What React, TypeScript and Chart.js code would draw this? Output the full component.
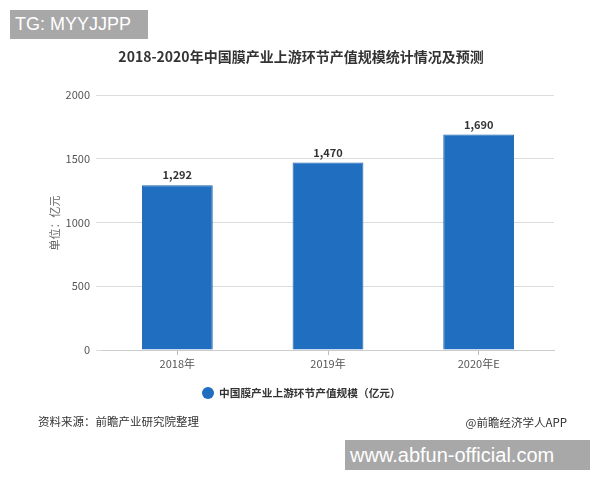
import React, { useEffect, useRef } from "react";
import { Chart, registerables } from "chart.js";

Chart.register(...registerables);

const categories = ["2018年", "2019年", "2020年E"];
const values = [1292, 1470, 1690];
const yTicks = [0, 500, 1000, 1500, 2000];
const titleText = "2018-2020年中国膜产业上游环节产值规模统计情况及预测";
const seriesName = "中国膜产业上游环节产值规模（亿元）";
const yAxisTitle = "单位：亿元";
const sourceText = "资料来源：前瞻产业研究院整理";
const creditText = "@前瞻经济学人APP";

const CJK = '"Noto Sans CJK SC", "Noto Sans", sans-serif';
const BAR = "#1f6ebf";

const fmt = (v: number) => v.toLocaleString("en-US");

const decor = {
  id: "decor",
  afterDatasetsDraw(chart: any) {
    const ctx = chart.ctx as CanvasRenderingContext2D;
    const meta = chart.getDatasetMeta(0);
    ctx.save();
    // data labels
    ctx.fillStyle = "#333";
    ctx.font = `bold 11px ${CJK}`;
    ctx.textAlign = "center";
    ctx.textBaseline = "middle";
    meta.data.forEach((el: any, i: number) => {
      ctx.fillText(fmt(values[i]), el.x, el.y - 10);
    });
    // title
    ctx.font = `bold 14px ${CJK}`;
    ctx.fillStyle = "#333";
    ctx.fillText(titleText, 301, 57);
    // y axis title
    ctx.save();
    ctx.translate(55, 223);
    ctx.rotate(-Math.PI / 2);
    ctx.font = `11px ${CJK}`;
    ctx.fillStyle = "#666";
    ctx.fillText(yAxisTitle, 0, 0);
    ctx.restore();
    // legend
    ctx.fillStyle = BAR;
    ctx.beginPath();
    ctx.arc(208, 393, 6, 0, Math.PI * 2);
    ctx.fill();
    ctx.fillStyle = "#333";
    ctx.font = `bold 10.7px ${CJK}`;
    ctx.textAlign = "left";
    ctx.fillText(seriesName, 219, 393);
    // footer
    ctx.font = `11.5px ${CJK}`;
    ctx.fillStyle = "#333";
    ctx.fillText(sourceText, 38, 422);
    ctx.textAlign = "right";
    ctx.fillText(creditText, 567, 423);
    ctx.restore();
  },
};

export default function App() {
  const ref = useRef<HTMLCanvasElement>(null);
  useEffect(() => {
    if (!ref.current) return;
    const chart = new Chart(ref.current, {
      type: "bar",
      data: {
        labels: categories,
        datasets: [
          {
            label: seriesName,
            data: values,
            backgroundColor: BAR,
            borderColor: "#1a62ad",
            borderWidth: 1,
            barPercentage: 0.47,
            categoryPercentage: 1,
          },
        ],
      },
      plugins: [decor],
      options: {
        responsive: false,
        animation: false,
        layout: { padding: { left: 0, right: 46, top: 95, bottom: 110 } },
        plugins: {
          legend: { display: false },
          title: { display: false },
          tooltip: { enabled: false },
        },
        scales: {
          x: {
            grid: {
              offset: false,
              drawOnChartArea: false,
              drawTicks: true,
              tickLength: 5,
              color: "#bbb",
            },
            border: { color: "#ccc" },
            ticks: {
              color: "#555",
              font: { size: 11, family: CJK },
              padding: 2,
            },
            afterFit(scale: any) {
              scale.height = 20;
            },
          },
          y: {
            min: 0,
            max: 2000,
            afterBuildTicks(scale: any) {
              scale.ticks = yTicks.map((v) => ({ value: v }));
            },
            grid: { color: "#dcdcdc", tickLength: 6, drawTicks: true },
            border: { display: false },
            ticks: {
              color: "#555",
              font: { size: 11, family: CJK },
              padding: 6,
              callback: (v: any) => String(v),
            },
            afterFit(scale: any) {
              scale.width = 102;
            },
          },
        },
      },
    });
    return () => chart.destroy();
  }, []);

  return (
    <div style={{ position: "fixed", left: 0, top: 0, width: 600, height: 480, background: "#fff" }}>
      <canvas ref={ref} width={600} height={480} style={{ display: "block" }} />
      <div
        style={{
          position: "absolute",
          left: 10,
          top: 10,
          width: 138,
          height: 29,
          background: "#a8a8a8",
          color: "#fff",
          font: '18px "Liberation Sans", Arial, sans-serif',
          lineHeight: "29px",
          paddingLeft: 5,
          boxSizing: "border-box",
        }}
      >
        TG: MYYJJPP
      </div>
      <div
        style={{
          position: "absolute",
          left: 345,
          top: 440,
          width: 245,
          height: 30,
          background: "#a8a8a8",
          color: "#fff",
          font: '20px "Liberation Sans", Arial, sans-serif',
          lineHeight: "30px",
          paddingLeft: 5,
          boxSizing: "border-box",
        }}
      >
        www.abfun-official.com
      </div>
    </div>
  );
}
